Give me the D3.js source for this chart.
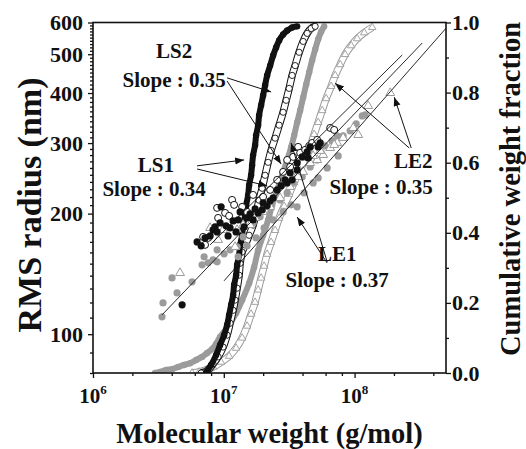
<!DOCTYPE html>
<html>
<head>
<meta charset="utf-8">
<script src="https://cdn.jsdelivr.net/npm/d3@7"></script>
<style>
  body { margin: 0; background: #fff; }
  svg text { font-family: "Liberation Serif", "Times New Roman", serif; font-weight: bold; fill: #111; }
</style>
</head>
<body>
<svg id="chart" width="526" height="449"></svg>
<script>
// ---- data (molecular weight in units of 1e6 g/mol) ----
// cumulative weight fraction curves (right axis)
const ls1CumMw = [7.32,8.00,8.73,9.37,10.05,10.60,10.98,11.37,11.78,11.99,12.42,12.64,13.09,13.33,13.81,14.05,14.56,14.82,15.35,15.62,16.17,16.46,16.75,17.35,17.66,18.30,18.62,19.29,19.98,20.70,21.44,22.61,23.84,25.13,26.50,28.43,30.51,33.31,36.38];
const ls1CumFrac = [0.000,0.023,0.051,0.080,0.108,0.137,0.165,0.194,0.222,0.251,0.279,0.308,0.336,0.365,0.393,0.422,0.450,0.479,0.507,0.536,0.564,0.593,0.621,0.650,0.678,0.707,0.735,0.764,0.792,0.821,0.849,0.877,0.906,0.929,0.949,0.966,0.977,0.986,0.989];

const ls2CumMw = [6.71,7.45,8.28,9.05,9.88,10.60,11.17,11.78,12.20,12.64,13.09,13.33,13.81,14.56,15.62,16.75,17.66,18.62,19.63,20.70,21.82,23.01,24.69,26.50,28.43,29.98,31.61,33.31,35.12,37.69,40.44,43.40,46.56,49.96];
const ls2CumFrac = [0.000,0.006,0.026,0.046,0.074,0.108,0.142,0.179,0.208,0.242,0.279,0.313,0.345,0.365,0.393,0.422,0.456,0.493,0.527,0.564,0.601,0.635,0.670,0.707,0.744,0.778,0.812,0.849,0.877,0.915,0.946,0.969,0.983,0.989];

const le1CumMw = [2.98,3.26,3.62,4.02,4.47,4.97,5.52,6.14,6.82,7.45,8.14,8.73,9.37,10.98,12.42,13.81,15.62,17.05,18.30,19.98,21.82,23.42,25.58,27.94,30.51,32.73,34.51,36.38,38.36,40.44,42.64,44.95,47.39,49.96,52.68,55.53,58.54];
const le1CumFrac = [0.000,0.003,0.009,0.011,0.017,0.023,0.028,0.037,0.046,0.057,0.068,0.083,0.103,0.137,0.171,0.208,0.256,0.302,0.350,0.393,0.436,0.479,0.521,0.564,0.607,0.644,0.678,0.715,0.749,0.786,0.823,0.858,0.892,0.923,0.952,0.974,0.989];

const le2CumMw = [5.72,6.47,7.32,8.28,9.54,10.98,12.42,13.81,15.08,16.17,17.35,18.30,19.29,20.33,21.44,23.01,24.69,26.50,28.94,31.61,34.51,38.36,41.89,45.75,49.09,52.68,56.52,60.64,66.23,71.07,77.61,84.76,94.20,104.7,118.5,136.4];
const le2CumFrac = [0.000,0.003,0.009,0.017,0.031,0.048,0.071,0.100,0.134,0.168,0.202,0.237,0.271,0.305,0.339,0.373,0.407,0.442,0.476,0.510,0.544,0.578,0.613,0.647,0.681,0.715,0.749,0.783,0.818,0.849,0.880,0.909,0.934,0.954,0.971,0.986];

// RMS radius (nm) vs molecular weight (left axis)
const le1Mw = [3.37,3.43,4.02,4.39,5.72,6.82,7.07,7.59,8.28,8.89,8.89,10.05,11.17,12.64,12.87,14.05,15.08,16.75,17.66,18.95,20.33,22.61,23.84,26.97,28.43,30.51,32.73,33.90,36.38,39.74,41.16,45.75,48.23,51.76,52.68,59.59,61.72,67.40,73.61,74.92,81.74,92.55,102.9,114.4,120.6];
const le1Rms = [110.5,119.7,138.2,126.8,135.1,149.0,156.0,150.7,153.3,151.6,162.4,158.7,162.4,165.2,156.0,174.9,166.2,189.6,173.9,196.3,184.2,207.9,192.9,216.4,202.0,225.3,210.3,238.6,207.9,247.0,225.3,261.6,238.6,272.3,245.6,295.1,260.1,303.8,312.6,278.7,312.6,321.7,334.9,350.7,352.7];

const le2Mw = [4.63,7.86,9.05,9.88,12.20,12.64,14.05,15.89,17.35,19.98,22.61,26.97,32.16,37.02,40.44,45.75,51.76,57.53,65.07,73.61,48.23,54.56,69.82,81.74,97.57,106.6,127.1,187.3];
const le2Rms = [142.2,184.2,172.0,182.1,165.2,182.1,187.4,187.4,195.1,202.0,207.9,218.9,233.2,247.0,254.2,267.6,272.3,280.3,291.8,300.3,278.7,286.9,296.9,309.1,327.3,314.4,371.5,400.2];

const ls2Mw = [6.95,7.19,7.59,8.89,9.05,10.23,10.98,11.57,11.99,13.81,15.08,16.75,19.98,22.61,25.58,28.43,30.51,32.16,33.90,37.02,38.36,41.89,44.95,47.39,51.76,65.07,69.82];
const ls2Rms = [174.9,167.1,173.9,206.7,195.1,200.8,197.4,216.4,210.3,207.9,202.0,222.7,220.2,229.2,242.8,254.2,272.3,261.6,277.1,293.5,283.6,288.5,295.1,300.3,305.5,327.3,323.6];

const ls1Mw = [4.80,6.25,6.71,7.19,8.28,8.58,8.89,9.37,9.54,11.17,12.87,13.33,15.08,16.75,18.30,19.63,21.44,23.84,25.58,27.45,29.45,30.51,32.16,33.31,36.38,36.38,39.74,43.40,44.17,45.75,52.68,54.56,
    10.41,11.78,12.42,14.30,15.89,17.35,19.98,22.61,7.86,10.79];
const ls1Rms = [118.4,170.0,166.2,173.9,182.1,185.3,180.0,189.6,207.9,184.2,192.9,202.0,195.1,192.9,200.8,204.3,209.1,218.9,229.2,234.6,242.8,238.6,252.7,242.8,267.6,257.1,277.1,285.2,275.5,293.5,293.5,300.3,
    186.4,191.8,180.0,185.3,199.7,205.5,212.7,215.2,175.9,175.9];

// power-law fit lines: start/end molecular weight and radius
const fitMwStart = [10.05, 3.37, 7.86];
const fitMwEnd = [502, 329, 231.3];
const fitRmsStart = [135.9, 111.7, 167.1];
const fitRmsEnd = [581.3, 533.3, 497.8];

// ticks
const yMajor = [100, 200, 300, 400, 500, 600];
const fracMajor = [0, 0.2, 0.4, 0.6, 0.8, 1.0];
const xMajor = [1e6, 1e7, 1e8];

// annotations: [mw, fraction] positions
const labels = [
    {text: "LS2", at: [4.17, 0.899]},
    {text: "Slope : 0.35", at: [4.17, 0.816]},
    {text: "LS1", at: [3.03, 0.573]},
    {text: "Slope : 0.34", at: [2.93, 0.505]},
    {text: "LE2", at: [280.8, 0.585]},
    {text: "Slope : 0.35", at: [159.8, 0.511]},
    {text: "LE1", at: [73.61, 0.320]},
    {text: "Slope : 0.37", at: [73.61, 0.245]}
];
const arrows = [
    [[10.60, 0.842], [23.01, 0.802]],
    [[10.60, 0.833], [27.45, 0.596]],
    [[6.25, 0.591], [14.30, 0.608]],
    [[6.25, 0.582], [21.44, 0.534]],
    [[261.7, 0.642], [71.07, 0.827]],
    [[271.0, 0.642], [201.0, 0.787]],
    [[61.72, 0.317], [32.73, 0.656]],
    [[61.72, 0.314], [36.38, 0.445]]
];

// ---- drawing ----
const svg = d3.select("#chart");
const plot = {left: 93, right: 446, top: 22.5, bottom: 373};
const gray = "#9b9b9b";

const x = d3.scaleLog().domain([1e6, 5e8]).range([plot.left, plot.right]);
const yR = d3.scaleLog().domain([80, 600]).range([plot.bottom, plot.top]);
const yF = d3.scaleLinear().domain([0, 1]).range([plot.bottom, plot.top]);

svg.append("rect").attr("width", 526).attr("height", 449).attr("fill", "#fff");

svg.append("defs").append("clipPath").attr("id", "clip")
    .append("rect")
    .attr("x", plot.left).attr("y", plot.top - 2)
    .attr("width", plot.right - plot.left).attr("height", plot.bottom - plot.top + 2);

svg.select("defs").append("marker")
    .attr("id", "head")
    .attr("markerUnits", "userSpaceOnUse")
    .attr("markerWidth", 10).attr("markerHeight", 8)
    .attr("refX", 9).attr("refY", 3.5)
    .attr("orient", "auto")
    .append("path").attr("d", "M0,0 L9,3.5 L0,7 Z").attr("fill", "#111");

const zip = (a, b) => a.map((v, i) => [v * 1e6, b[i]]);
const area = svg.append("g").attr("clip-path", "url(#clip)");

function cumLine(pts) {
    return d3.line().x(d => x(d[0])).y(d => yF(d[1])).curve(d3.curveCatmullRom)(pts);
}

function drawCumulative(pts, kind) {
    const g = area.append("g");
    if (kind === "filledBlack" || kind === "filledGray") {
        const c = kind === "filledBlack" ? "#111" : gray;
        g.append("path").attr("d", cumLine(pts)).attr("fill", "none")
            .attr("stroke", c).attr("stroke-width", 6);
        g.selectAll("circle").data(pts).join("circle")
            .attr("cx", d => x(d[0])).attr("cy", d => yF(d[1])).attr("r", 3.2).attr("fill", c);
    } else if (kind === "openCircle") {
        g.append("path").attr("d", cumLine(pts)).attr("fill", "none")
            .attr("stroke", "#111").attr("stroke-width", 7.5);
        g.append("path").attr("d", cumLine(pts)).attr("fill", "none")
            .attr("stroke", "#fff").attr("stroke-width", 5.5);
        g.selectAll("circle").data(pts).join("circle")
            .attr("cx", d => x(d[0])).attr("cy", d => yF(d[1])).attr("r", 3.1)
            .attr("fill", "#fff").attr("stroke", "#111").attr("stroke-width", 0.9);
    } else {
        g.append("path").attr("d", cumLine(pts)).attr("fill", "none")
            .attr("stroke", gray).attr("stroke-width", 7.5);
        g.append("path").attr("d", cumLine(pts)).attr("fill", "none")
            .attr("stroke", "#fff").attr("stroke-width", 5.5);
        g.selectAll("path.m").data(pts).join("path").attr("class", "m")
            .attr("transform", d => `translate(${x(d[0])},${yF(d[1])})`)
            .attr("d", d3.symbol(d3.symbolTriangle, 24))
            .attr("fill", "#fff").attr("stroke", gray).attr("stroke-width", 0.9);
    }
}

drawCumulative(zip(le2CumMw, le2CumFrac), "openTriangle");
drawCumulative(zip(le1CumMw, le1CumFrac), "filledGray");
drawCumulative(zip(ls2CumMw, ls2CumFrac), "openCircle");
drawCumulative(zip(ls1CumMw, ls1CumFrac), "filledBlack");

// scatter
const sc = area.append("g");
sc.selectAll("circle.le1").data(zip(le1Mw, le1Rms)).join("circle").attr("class", "le1")
    .attr("cx", d => x(d[0])).attr("cy", d => yR(d[1])).attr("r", 3.6).attr("fill", gray);
sc.selectAll("path.le2").data(zip(le2Mw, le2Rms)).join("path").attr("class", "le2")
    .attr("transform", d => `translate(${x(d[0])},${yR(d[1])})`)
    .attr("d", d3.symbol(d3.symbolTriangle, 34))
    .attr("fill", "#fff").attr("stroke", gray).attr("stroke-width", 1);
sc.selectAll("circle.ls2").data(zip(ls2Mw, ls2Rms)).join("circle").attr("class", "ls2")
    .attr("cx", d => x(d[0])).attr("cy", d => yR(d[1])).attr("r", 3.5)
    .attr("fill", "#fff").attr("stroke", "#111").attr("stroke-width", 1);
sc.selectAll("circle.ls1").data(zip(ls1Mw, ls1Rms)).join("circle").attr("class", "ls1")
    .attr("cx", d => x(d[0])).attr("cy", d => yR(d[1])).attr("r", 3.6).attr("fill", "#111");

// fit lines
area.selectAll("line.fit").data(fitMwStart).join("line").attr("class", "fit")
    .attr("x1", (d, i) => x(d * 1e6)).attr("y1", (d, i) => yR(fitRmsStart[i]))
    .attr("x2", (d, i) => x(fitMwEnd[i] * 1e6)).attr("y2", (d, i) => yR(fitRmsEnd[i]))
    .attr("stroke", "#111").attr("stroke-width", 0.9);

// annotations
svg.selectAll("text.note").data(labels).join("text").attr("class", "note")
    .attr("x", d => x(d.at[0] * 1e6)).attr("y", d => yF(d.at[1]))
    .attr("text-anchor", "middle").style("font-size", "21px").text(d => d.text);
svg.selectAll("line.arrow").data(arrows).join("line").attr("class", "arrow")
    .attr("x1", d => x(d[0][0] * 1e6)).attr("y1", d => yF(d[0][1]))
    .attr("x2", d => x(d[1][0] * 1e6)).attr("y2", d => yF(d[1][1]))
    .attr("stroke", "#111").attr("stroke-width", 1).attr("marker-end", "url(#head)");

// axes
function styleAxis(g) {
    g.select(".domain").remove();
    g.selectAll(".tick line").attr("stroke", "#111").attr("stroke-width", 1.3);
    g.selectAll(".tick text").style("font-size", "22px").attr("fill", "#111");
}

const yMinor = d3.range(80, 601, 10).filter(v => !yMajor.includes(v));
svg.append("g").attr("transform", `translate(${plot.left},0)`)
    .call(d3.axisLeft(yR).tickValues(yMinor).tickFormat("").tickSize(3)).call(styleAxis);
svg.append("g").attr("transform", `translate(${plot.left},0)`)
    .call(d3.axisLeft(yR).tickValues(yMajor).tickFormat(d3.format("d")).tickSize(5).tickPadding(5)).call(styleAxis);

const fracMinor = [0.1, 0.3, 0.5, 0.7, 0.9];
svg.append("g").attr("transform", `translate(${plot.right},0)`)
    .call(d3.axisRight(yF).tickValues(fracMinor).tickFormat("").tickSize(3)).call(styleAxis);
svg.append("g").attr("transform", `translate(${plot.right},0)`)
    .call(d3.axisRight(yF).tickValues(fracMajor).tickFormat(d3.format(".1f")).tickSize(5).tickPadding(1)).call(styleAxis);

const xMinor = [2e6, 4e6, 6e6, 8e6, 2e7, 4e7, 6e7, 8e7, 2e8, 4e8];
svg.append("g").attr("transform", `translate(0,${plot.bottom})`)
    .call(d3.axisBottom(x).tickValues(xMinor).tickFormat("").tickSize(3)).call(styleAxis);
svg.append("g").attr("transform", `translate(0,${plot.bottom})`)
    .call(d3.axisBottom(x).tickValues(xMajor).tickFormat("").tickSize(5)).call(styleAxis);

xMajor.forEach(v => {
    const t = svg.append("text").attr("x", x(v)).attr("y", 403)
        .attr("text-anchor", "middle").style("font-size", "21px");
    t.append("tspan").text("10");
    t.append("tspan").attr("dy", -9).style("font-size", "13px").text(Math.round(Math.log10(v)));
});

// frame
svg.append("rect")
    .attr("x", plot.left).attr("y", plot.top)
    .attr("width", plot.right - plot.left).attr("height", plot.bottom - plot.top)
    .attr("fill", "none").attr("stroke", "#111").attr("stroke-width", 1.6);

// titles
svg.append("text").attr("x", (plot.left + plot.right) / 2).attr("y", 443)
    .attr("text-anchor", "middle").style("font-size", "28.5px").text("Molecular weight (g/mol)");
svg.append("text").attr("transform", "translate(41,205) rotate(-90)")
    .attr("text-anchor", "middle").style("font-size", "34px").text("RMS radius (nm)");
svg.append("text").attr("transform", "translate(520,189) rotate(-90)")
    .attr("text-anchor", "middle").style("font-size", "28.5px").text("Cumulative weight fraction");
</script>
</body>
</html>
